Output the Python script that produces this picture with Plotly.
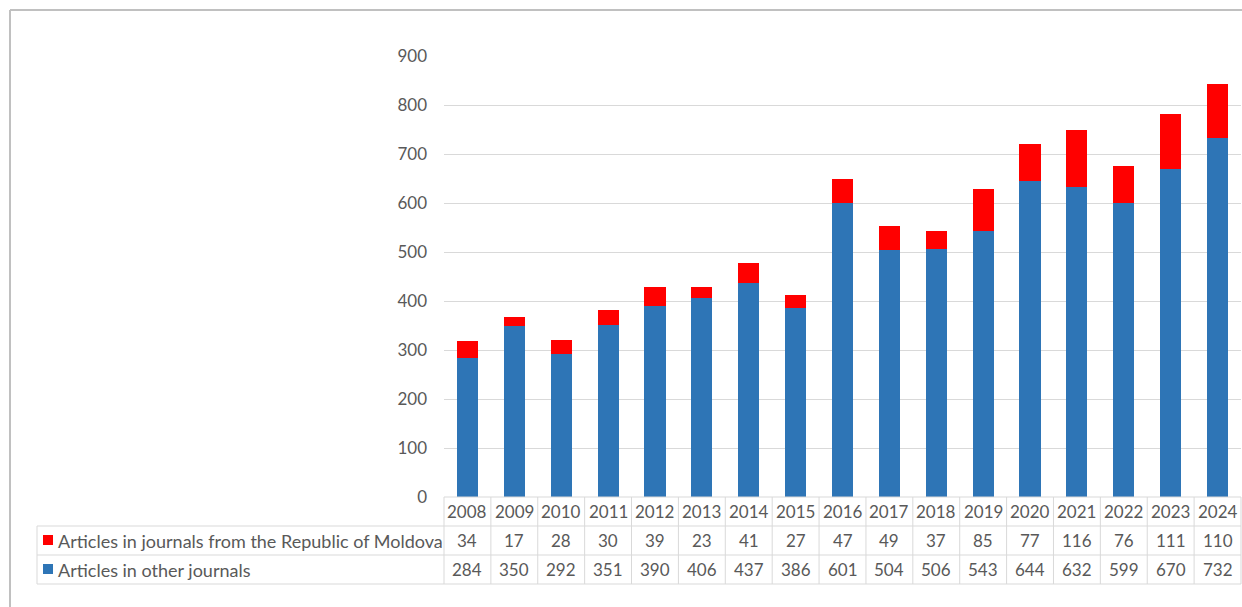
import plotly.graph_objects as go

# Publication counts per year
years = ["2008", "2009", "2010", "2011", "2012", "2013", "2014", "2015", "2016",
         "2017", "2018", "2019", "2020", "2021", "2022", "2023", "2024"]
moldova_journals = [34, 17, 28, 30, 39, 23, 41, 27, 47, 49, 37, 85, 77, 116, 76, 111, 110]
other_journals = [284, 350, 292, 351, 390, 406, 437, 386, 601, 504, 506, 543, 644, 632, 599, 670, 732]

name_moldova = "Articles in journals from the Republic of Moldova"
name_other = "Articles in other journals"

W, H = 1242, 607
L, R, T, B = 444, 1, 56, 110
PW, PH = W - L - R, H - T - B

RED = "#ff0000"
BLUE = "#2e75b6"
TXT = "#595959"
GRID = "#d9d9d9"
FONT = "Lato"
NUM_SIZE = 17
LABEL_SIZE = 18


def px_x(p):
    return (p - L) / PW


def px_y(p):
    return (H - B - p) / PH


fig = go.Figure()
fig.add_bar(x=years, y=other_journals, name=name_other, marker_color=BLUE,
            marker_line_width=0, width=0.45, hoverinfo="y+name")
fig.add_bar(x=years, y=moldova_journals, name=name_moldova, marker_color=RED,
            marker_line_width=0, width=0.45, hoverinfo="y+name")

shapes = []
annotations = []

# Outer frame (left and top edges)
shapes.append(dict(type="line", xref="paper", yref="paper",
                   x0=px_x(10), x1=px_x(10), y0=px_y(10), y1=px_y(H + 5),
                   line=dict(color="#c0c0c0", width=2)))
shapes.append(dict(type="line", xref="paper", yref="paper",
                   x0=px_x(10), x1=px_x(W + 5), y0=px_y(10), y1=px_y(10),
                   line=dict(color="#c0c0c0", width=2)))

# Data table grid
row_year_top, row1_top, row2_top, row_bottom = 497, 526, 555, 584
table_left = 37
n = len(years)
for yy, x0 in [(row_year_top, L), (row1_top, table_left), (row2_top, table_left), (row_bottom, table_left)]:
    shapes.append(dict(type="line", xref="paper", yref="paper",
                       x0=px_x(x0), x1=1, y0=px_y(yy), y1=px_y(yy),
                       line=dict(color=GRID, width=1)))
shapes.append(dict(type="line", xref="paper", yref="paper",
                   x0=px_x(table_left), x1=px_x(table_left), y0=px_y(row1_top), y1=px_y(row_bottom),
                   line=dict(color=GRID, width=1)))
for i in range(n + 1):
    xv = i / n
    shapes.append(dict(type="line", xref="paper", yref="paper",
                       x0=xv, x1=xv, y0=px_y(row_year_top), y1=px_y(row_bottom),
                       line=dict(color=GRID, width=1)))

# Legend keys in the table
for (ytop, col) in [(row1_top, RED), (row2_top, BLUE)]:
    shapes.append(dict(type="rect", xref="paper", yref="paper",
                       x0=px_x(43), x1=px_x(53), y0=px_y(ytop + 9), y1=px_y(ytop + 19),
                       fillcolor=col, line=dict(width=0)))

row_centers = [(row_year_top + row1_top) / 2, (row1_top + row2_top) / 2, (row2_top + row_bottom) / 2]
for label, yc in [(name_moldova, row_centers[1]), (name_other, row_centers[2])]:
    annotations.append(dict(text=label, xref="paper", yref="paper", x=px_x(56), y=px_y(yc),
                            xanchor="left", yanchor="middle", showarrow=False,
                            font=dict(family=FONT, size=LABEL_SIZE, color=TXT)))

for i, yr in enumerate(years):
    for val, yc in [(yr, row_centers[0]), (moldova_journals[i], row_centers[1]), (other_journals[i], row_centers[2])]:
        annotations.append(dict(text=str(val), xref="paper", yref="paper", x=(i + 0.5) / n, y=px_y(yc),
                                xanchor="center", yanchor="middle", showarrow=False,
                                font=dict(family=FONT, size=NUM_SIZE, color=TXT)))

fig.update_layout(
    width=W, height=H,
    margin=dict(l=L, r=R, t=T, b=B),
    barmode="stack",
    showlegend=False,
    plot_bgcolor="white",
    paper_bgcolor="white",
    font=dict(family=FONT, size=NUM_SIZE, color=TXT),
    shapes=shapes,
    annotations=annotations,
    xaxis=dict(type="category", showticklabels=False, showgrid=False, zeroline=False,
               showline=False, ticks=""),
    yaxis=dict(range=[0, 900], tickmode="linear", tick0=0, dtick=100,
               showgrid=True, gridcolor=GRID, gridwidth=1, zeroline=False,
               showline=False, ticks="", ticklabelstandoff=16,
               tickfont=dict(family=FONT, size=NUM_SIZE, color=TXT)),
)

fig.write_html("out.html")
